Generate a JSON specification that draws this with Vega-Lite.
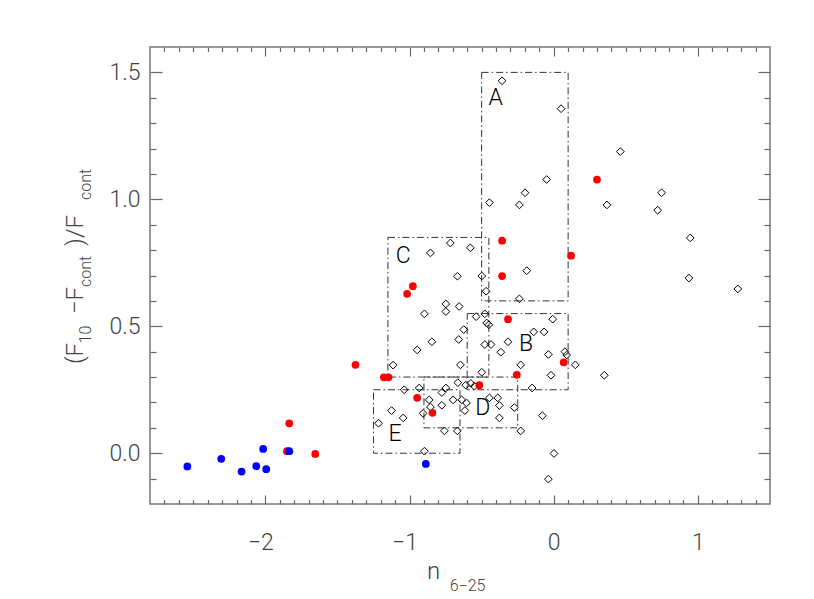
{
  "$schema": "https://vega.github.io/schema/vega-lite/v6.json",
  "width": 620,
  "height": 457,
  "autosize": {"type": "none"},
  "padding": {"left": 150, "top": 47, "right": 44, "bottom": 95},
  "background": "white",
  "config": {
    "view": {"stroke": "#777", "strokeWidth": 1.5},
    "axis": {
      "grid": false, "domain": false,
      "labelFont": "Roboto", "titleFont": "Roboto",
      "labelFontWeight": 300, "titleFontWeight": 300, "tickColor": "#666", "tickWidth": 1.2, "tickOpacity": 1,
      "labelColor": "#444", "titleColor": "#444",
      "labelFontSize": 23, "titleFontSize": 24, "labelFlush": false, "titleLimit": 1000
    }
  },
  "datasets": {
    "diamonds": [
      {"x": -0.358, "y": 1.467}, {"x": 0.051, "y": 1.357}, {"x": 0.462, "y": 1.188}, {"x": -0.049, "y": 1.078},
      {"x": -0.199, "y": 1.026}, {"x": -0.446, "y": 0.987}, {"x": -0.238, "y": 0.978}, {"x": 0.369, "y": 0.978},
      {"x": 0.748, "y": 1.026}, {"x": 0.721, "y": 0.957}, {"x": 0.947, "y": 0.848}, {"x": -0.578, "y": 0.809},
      {"x": -0.187, "y": 0.719}, {"x": -0.499, "y": 0.698}, {"x": 0.938, "y": 0.690}, {"x": 1.277, "y": 0.647},
      {"x": -0.469, "y": 0.638}, {"x": -0.238, "y": 0.608}, {"x": -0.538, "y": 0.538}, {"x": -0.478, "y": 0.549},
      {"x": -0.465, "y": 0.513}, {"x": -0.450, "y": 0.506}, {"x": -0.007, "y": 0.528}, {"x": -0.624, "y": 0.487},
      {"x": -0.139, "y": 0.478}, {"x": -0.067, "y": 0.478}, {"x": -0.317, "y": 0.439}, {"x": -0.478, "y": 0.428},
      {"x": -0.435, "y": 0.428}, {"x": -0.367, "y": 0.398}, {"x": -0.037, "y": 0.389}, {"x": 0.078, "y": 0.400},
      {"x": 0.090, "y": 0.387}, {"x": 0.150, "y": 0.348}, {"x": -0.229, "y": 0.348}, {"x": 0.351, "y": 0.307},
      {"x": -0.019, "y": 0.307}, {"x": -0.499, "y": 0.319}, {"x": -0.150, "y": 0.257}, {"x": -0.610, "y": 0.268},
      {"x": -0.575, "y": 0.275}, {"x": -0.550, "y": 0.264}, {"x": -0.446, "y": 0.218}, {"x": -0.388, "y": 0.218},
      {"x": -0.377, "y": 0.188}, {"x": -0.273, "y": 0.180}, {"x": -0.377, "y": 0.139}, {"x": -0.079, "y": 0.148},
      {"x": -0.229, "y": 0.088}, {"x": 0.002, "y": -0.001}, {"x": -0.037, "y": -0.102}, {"x": -1.114, "y": 0.347},
      {"x": -0.947, "y": 0.407}, {"x": -0.845, "y": 0.439}, {"x": -0.897, "y": 0.549}, {"x": -0.748, "y": 0.588},
      {"x": -0.748, "y": 0.558}, {"x": -0.656, "y": 0.578}, {"x": -0.668, "y": 0.697}, {"x": -0.659, "y": 0.448},
      {"x": -0.647, "y": 0.348}, {"x": -1.037, "y": 0.250}, {"x": -0.933, "y": 0.257}, {"x": -1.125, "y": 0.168},
      {"x": -1.044, "y": 0.139}, {"x": -1.215, "y": 0.118}, {"x": -0.864, "y": 0.210}, {"x": -0.855, "y": 0.182},
      {"x": -0.906, "y": 0.157}, {"x": -0.776, "y": 0.239}, {"x": -0.748, "y": 0.257}, {"x": -0.776, "y": 0.189},
      {"x": -0.698, "y": 0.210}, {"x": -0.665, "y": 0.278}, {"x": -0.638, "y": 0.210}, {"x": -0.605, "y": 0.198},
      {"x": -0.616, "y": 0.168}, {"x": -0.758, "y": 0.088}, {"x": -0.668, "y": 0.088}, {"x": -0.897, "y": 0.008},
      {"x": -0.855, "y": 0.789}, {"x": -0.717, "y": 0.828}
    ],
    "red": [
      {"x": 0.300, "y": 1.078}, {"x": -0.358, "y": 0.837}, {"x": 0.120, "y": 0.778}, {"x": -0.358, "y": 0.698},
      {"x": -0.317, "y": 0.528}, {"x": 0.069, "y": 0.358}, {"x": -0.256, "y": 0.309}, {"x": -0.516, "y": 0.268},
      {"x": -1.834, "y": 0.118}, {"x": -1.850, "y": 0.008}, {"x": -1.654, "y": -0.003}, {"x": -1.375, "y": 0.348},
      {"x": -1.178, "y": 0.299}, {"x": -1.146, "y": 0.299}, {"x": -1.017, "y": 0.628}, {"x": -0.977, "y": 0.658},
      {"x": -0.947, "y": 0.218}, {"x": -0.841, "y": 0.159}
    ],
    "blue": [
      {"x": -2.541, "y": -0.052}, {"x": -2.306, "y": -0.022}, {"x": -2.165, "y": -0.072}, {"x": -2.063, "y": -0.051},
      {"x": -1.994, "y": -0.063}, {"x": -2.015, "y": 0.017}, {"x": -1.834, "y": 0.008}, {"x": -0.887, "y": -0.042}
    ],
    "boxes": [
      {"box": "A", "x1": -0.5, "x2": 0.1, "y1": 0.6, "y2": 1.5, "lx": -0.402, "ly": 1.398},
      {"box": "B", "x1": -0.6, "x2": 0.1, "y1": 0.25, "y2": 0.55, "lx": -0.192, "ly": 0.429},
      {"box": "C", "x1": -1.15, "x2": -0.45, "y1": 0.3, "y2": 0.85, "lx": -1.044, "ly": 0.776},
      {"box": "D", "x1": -0.9, "x2": -0.25, "y1": 0.1, "y2": 0.3, "lx": -0.492, "ly": 0.18},
      {"box": "E", "x1": -1.25, "x2": -0.65, "y1": 0.0, "y2": 0.25, "lx": -1.1, "ly": 0.076}
    ]
  },
  "layer": [
    {
      "data": {"name": "boxes"},
      "mark": {"type": "rect", "fillOpacity": 0, "stroke": "#333", "strokeWidth": 1, "strokeDash": [7, 3, 1.5, 3]},
      "encoding": {
        "x": {"field": "x1", "type": "quantitative", "scale": {"domain": [-2.8, 1.5], "nice": false, "zero": false},
          "axis": {"orient": "bottom", "values": [-2, -1, 0, 1], "format": "d", "ticks": false, "tickSize": 0, "labelPadding": 27,
            "labelOffset": {"condition": {"test": "datum.value < 0", "value": -5}, "value": 0},
            "title": "n", "titleX": 283, "titleY": 74, "titleAlign": "center", "titleBaseline": "alphabetic", "titleAngle": 0, "titleFontSize": 24}},
        "x2": {"field": "x2"},
        "y": {"field": "y1", "type": "quantitative", "scale": {"domain": [-0.2, 1.6], "nice": false, "zero": false},
          "axis": {"orient": "left", "values": [0, 0.5, 1, 1.5], "format": ".1f", "ticks": false, "tickSize": 0, "labelPadding": 10,
            "title": "(F", "titleX": -68, "titleY": 306, "titleAlign": "center", "titleBaseline": "alphabetic", "titleAngle": -90, "titleFontSize": 24}},
        "y2": {"field": "y2"}
      }
    },
    {
      "data": {"name": "diamonds"},
      "mark": {"type": "point", "shape": "diamond", "size": 60, "filled": false, "color": "black", "strokeWidth": 1, "opacity": 1},
      "encoding": {
        "x": {"field": "x", "type": "quantitative", "scale": {"domain": [-2.8, 1.5], "nice": false, "zero": false},
          "axis": {"orient": "bottom", "offset": 0, "tickSize": -9, "ticks": true, "values": [-2, -1, 0, 1], "labels": false,
            "title": "6−25", "titleX": 317, "titleY": 86, "titleAlign": "center", "titleBaseline": "alphabetic", "titleAngle": 0, "titleFontSize": 16}},
        "y": {"field": "y", "type": "quantitative", "scale": {"domain": [-0.2, 1.6], "nice": false, "zero": false},
          "axis": {"orient": "left", "offset": 0, "tickSize": -12, "ticks": true, "values": [0, 0.5, 1, 1.5], "labels": false,
            "title": "10", "titleX": -60, "titleY": 287, "titleAlign": "center", "titleBaseline": "alphabetic", "titleAngle": -90, "titleFontSize": 16}}
      }
    },
    {
      "data": {"name": "red"},
      "mark": {"type": "circle", "size": 60, "color": "#ff0000", "opacity": 1},
      "encoding": {
        "x": {"field": "x", "type": "quantitative", "scale": {"domain": [-2.8, 1.5], "nice": false, "zero": false},
          "axis": {"orient": "bottom", "offset": 0, "tickSize": -4.5, "ticks": true, "labels": false,
            "values": [-2.7,-2.6,-2.5,-2.4,-2.3,-2.2,-2.1,-1.9,-1.8,-1.7,-1.6,-1.5,-1.4,-1.3,-1.2,-1.1,-0.9,-0.8,-0.7,-0.6,-0.5,-0.4,-0.3,-0.2,-0.1,0.1,0.2,0.3,0.4,0.5,0.6,0.7,0.8,0.9,1.1,1.2,1.3,1.4],
            "title": "cont", "titleX": -60, "titleY": -320, "titleAlign": "center", "titleBaseline": "alphabetic", "titleAngle": -90, "titleFontSize": 16}},
        "y": {"field": "y", "type": "quantitative", "scale": {"domain": [-0.2, 1.6], "nice": false, "zero": false},
          "axis": {"orient": "left", "offset": 0, "tickSize": -6, "ticks": true, "labels": false,
            "values": [-0.1,0.1,0.2,0.3,0.4,0.6,0.7,0.8,0.9,1.1,1.2,1.3,1.4],
            "title": "−F", "titleX": -68, "titleY": 253, "titleAlign": "center", "titleBaseline": "alphabetic", "titleAngle": -90, "titleFontSize": 24}}
      }
    },
    {
      "data": {"name": "blue"},
      "mark": {"type": "circle", "size": 60, "color": "#0000ff", "opacity": 1},
      "encoding": {
        "x": {"field": "x", "type": "quantitative", "scale": {"domain": [-2.8, 1.5], "nice": false, "zero": false},
          "axis": {"orient": "top", "offset": 0, "tickSize": -9, "ticks": true, "values": [-2, -1, 0, 1], "labels": false, "title": null}},
        "y": {"field": "y", "type": "quantitative", "scale": {"domain": [-0.2, 1.6], "nice": false, "zero": false},
          "axis": {"orient": "right", "offset": 0, "tickSize": -12, "ticks": true, "values": [0, 0.5, 1, 1.5], "labels": false,
            "title": "cont", "titleX": -680, "titleY": 224, "titleAlign": "center", "titleBaseline": "alphabetic", "titleAngle": -90, "titleFontSize": 16}}
      }
    },
    {
      "data": {"name": "boxes"},
      "mark": {"type": "text", "fontSize": 23, "font": "Roboto", "fontWeight": 300, "color": "black", "align": "center", "baseline": "middle"},
      "encoding": {
        "x": {"field": "lx", "type": "quantitative", "scale": {"domain": [-2.8, 1.5], "nice": false, "zero": false},
          "axis": {"orient": "top", "offset": 0, "tickSize": -4.5, "ticks": true, "labels": false, "title": null,
            "values": [-2.7,-2.6,-2.5,-2.4,-2.3,-2.2,-2.1,-1.9,-1.8,-1.7,-1.6,-1.5,-1.4,-1.3,-1.2,-1.1,-0.9,-0.8,-0.7,-0.6,-0.5,-0.4,-0.3,-0.2,-0.1,0.1,0.2,0.3,0.4,0.5,0.6,0.7,0.8,0.9,1.1,1.2,1.3,1.4]}},
        "y": {"field": "ly", "type": "quantitative", "scale": {"domain": [-0.2, 1.6], "nice": false, "zero": false},
          "axis": {"orient": "right", "offset": 0, "tickSize": -6, "ticks": true, "labels": false,
            "values": [-0.1,0.1,0.2,0.3,0.4,0.6,0.7,0.8,0.9,1.1,1.2,1.3,1.4],
            "title": ")/F", "titleX": -688, "titleY": 183, "titleAlign": "center", "titleBaseline": "alphabetic", "titleAngle": -90, "titleFontSize": 24}},
        "text": {"field": "box"}
      }
    }
  ],
  "resolve": {"axis": {"x": "independent", "y": "independent"}}
}
